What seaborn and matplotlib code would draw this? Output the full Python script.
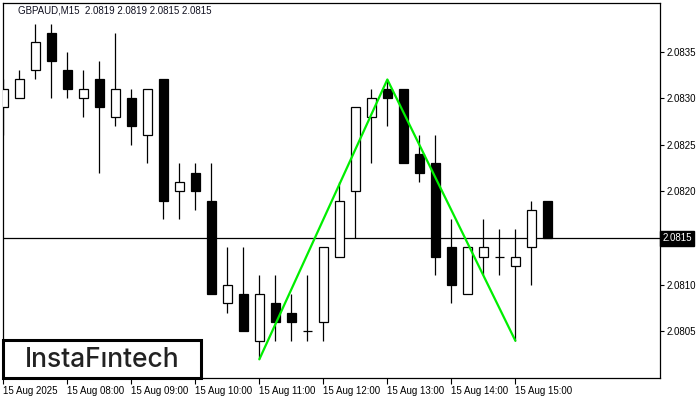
import numpy as np
import pandas as pd
import seaborn as sns
import matplotlib.pyplot as plt
from matplotlib.patches import Rectangle

# GBPAUD M15 candles, 15 Aug 2025 from 07:00
opens  = [2.0829, 2.0830, 2.0833, 2.0837, 2.0833, 2.0830, 2.0832, 2.0828, 2.0830, 2.0826,
          2.0832, 2.0820, 2.0822, 2.0819, 2.0808, 2.0809, 2.0804, 2.0808, 2.0807, 2.0805,
          2.0806, 2.0813, 2.0820, 2.0828, 2.0831, 2.0831, 2.0824, 2.0823, 2.0814, 2.0809,
          2.0813, 2.0813, 2.0812, 2.0814, 2.0819]
highs  = [2.0832, 2.0833, 2.0838, 2.0838, 2.0835, 2.0833, 2.0834, 2.0837, 2.0831, 2.0831,
          2.0832, 2.0823, 2.0823, 2.0823, 2.0814, 2.0814, 2.0811, 2.0811, 2.0809, 2.0811,
          2.0814, 2.0821, 2.0829, 2.0831, 2.0832, 2.0831, 2.0826, 2.0826, 2.0817, 2.0814,
          2.0817, 2.0816, 2.0816, 2.0819, 2.0819]
lows   = [2.0826, 2.0830, 2.0832, 2.0830, 2.0830, 2.0828, 2.0822, 2.0827, 2.0825, 2.0823,
          2.0817, 2.0817, 2.0818, 2.0809, 2.0807, 2.0805, 2.0802, 2.0804, 2.0804, 2.0804,
          2.0804, 2.0813, 2.0815, 2.0823, 2.0827, 2.0823, 2.0821, 2.0811, 2.0808, 2.0809,
          2.0811, 2.0811, 2.0804, 2.0810, 2.0815]
closes = [2.0831, 2.0832, 2.0836, 2.0834, 2.0831, 2.0831, 2.0829, 2.0831, 2.0827, 2.0831,
          2.0819, 2.0821, 2.0820, 2.0809, 2.0810, 2.0805, 2.0809, 2.0806, 2.0806, 2.0805,
          2.0814, 2.0819, 2.0829, 2.0830, 2.0830, 2.0823, 2.0822, 2.0813, 2.0810, 2.0814,
          2.0814, 2.0813, 2.0813, 2.0818, 2.0815]

# pattern points (candle index, price)
pattern_idx = [16, 24, 32]
pattern_price = [2.0802, 2.0832, 2.0804]

current_price = 2.0815
price_ticks = [2.0805, 2.0810, 2.0820, 2.0825, 2.0830, 2.0835]
time_ticks = [0, 4, 8, 12, 16, 20, 24, 28, 32]
time_labels = ["15 Aug 2025", "15 Aug 08:00", "15 Aug 09:00", "15 Aug 10:00", "15 Aug 11:00",
               "15 Aug 12:00", "15 Aug 13:00", "15 Aug 14:00", "15 Aug 15:00"]

df = pd.DataFrame({"o": opens, "h": highs, "l": lows, "c": closes})
df["i"] = np.arange(len(df))
df["bottom"] = df[["o", "c"]].min(axis=1)
df["height"] = (df["o"] - df["c"]).abs()
df["face"] = np.where(df["c"] >= df["o"], "white", "black")

sns.set_style("white")
plt.rcParams["font.family"] = ["Liberation Sans", "DejaVu Sans"]

fig = plt.figure(figsize=(7, 4), dpi=100)
ax = fig.add_axes([3 / 700, 22 / 400, 657 / 700, 375 / 400])

# last price line
ax.axhline(current_price, color="black", lw=0.9, zorder=1)

# wicks and bodies
ax.vlines(df["i"], df["l"], df["h"], color="black", lw=0.9, zorder=2)
ax.bar(df["i"], df["height"], bottom=df["bottom"], width=0.6,
       color=df["face"], edgecolor="black", linewidth=0.9, zorder=3)

# pattern line
pat = pd.DataFrame({"x": pattern_idx, "y": pattern_price})
sns.lineplot(data=pat, x="x", y="y", ax=ax, color="#00ee00", lw=1.6, sort=False, zorder=4)

ax.set_xlim(-0.02, 41.04)
ax.set_ylim(2.0800, 2.08402)
ax.set_xlabel("")
ax.set_ylabel("")

ax.yaxis.tick_right()
ax.set_yticks(price_ticks, [f"{p:.4f}" for p in price_ticks])
ax.set_xticks(time_ticks, time_labels, ha="left")
ax.tick_params(axis="y", direction="out", length=3, width=0.8, pad=2,
               labelsize=7, colors="black", right=True, left=False)
ax.tick_params(axis="x", direction="out", length=4, width=0.8, pad=2,
               labelsize=7, colors="black", bottom=True)
for s in ax.spines.values():
    s.set_color("black")
    s.set_linewidth(0.9)

# current price label on the axis
ax.annotate(f"{current_price:.4f}", xy=(1, current_price),
            xycoords=("axes fraction", "data"), xytext=(1.5, 0), textcoords="offset points",
            ha="left", va="center", fontsize=7, color="white",
            bbox=dict(boxstyle="square,pad=0.25", fc="black", ec="black"),
            annotation_clip=False)

# header
ax.text(0.0228, 0.979, "GBPAUD,M15  2.0819 2.0819 2.0815 2.0815", transform=ax.transAxes,
        ha="left", va="center", fontsize=7, color="#101020")

# logo
ax.add_patch(Rectangle((0, 0), 198 / 657, 38 / 375, transform=ax.transAxes,
                       fc="white", ec="black", lw=2.2, zorder=6, clip_on=False))
ax.text(99 / 657, 18 / 375, "InstaF\u0131ntech", transform=ax.transAxes,
        ha="center", va="center", fontsize=19, color="#222222",
        family=["Inter", "DejaVu Sans"], fontweight="medium", zorder=7)

fig.savefig("out.png", dpi=100)
